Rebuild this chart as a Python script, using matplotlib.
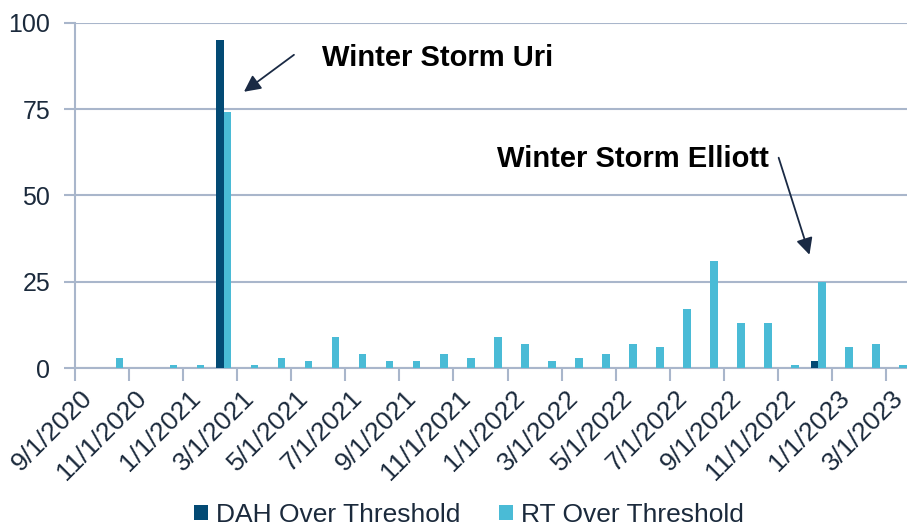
import matplotlib
matplotlib.use('Agg')
import matplotlib.pyplot as plt
import numpy as np
import pandas as pd

plt.rcParams['font.family'] = ['Liberation Sans', 'DejaVu Sans']

# monthly categories, Sep 2020 .. Mar 2023
months = pd.date_range('2020-09-01', '2023-03-01', freq='MS')
labels = [f'{d.month}/{d.day}/{d.year}' for d in months]

dah = [0, 0, 0, 0, 0, 95, 0, 0, 0, 0, 0, 0, 0, 0, 0, 0,
       0, 0, 0, 0, 0, 0, 0, 0, 0, 0, 0, 2, 0, 0, 0]
rt = [0, 3, 0, 1, 1, 74, 1, 3, 2, 9, 4, 2, 2, 4, 3, 9,
      7, 2, 3, 4, 7, 6, 17, 31, 13, 13, 1, 25, 6, 7, 1]

dah_color = '#034a74'
rt_color = '#4abbd6'
grid_color = '#a9b6cb'
text_color = '#1b2a3c'
arrow_color = '#1a2a44'

fig = plt.figure(figsize=(9.07, 5.27), dpi=100)
ax = fig.add_axes([75/907, 1 - 368/527, 838/907, 345.3/527])

x = np.arange(len(labels))
w = 0.28
ax.bar(x - w/2, dah, w, color=dah_color, label='DAH Over Threshold', zorder=3)
ax.bar(x + w/2, rt, w, color=rt_color, label='RT Over Threshold', zorder=3)

ax.set_xlim(-0.5, len(labels) - 0.5)
ax.set_ylim(0, 100)
ax.set_yticks([0, 25, 50, 75, 100])
ax.yaxis.grid(True, color=grid_color, linewidth=1.5)
ax.set_axisbelow(True)
for s in ['top', 'right']:
    ax.spines[s].set_visible(False)
for s in ['left', 'bottom']:
    ax.spines[s].set_color(grid_color)
    ax.spines[s].set_linewidth(1.5)

ax.tick_params(axis='y', length=8, width=1.5, color=grid_color,
               labelsize=18, labelcolor=text_color, pad=10)

# tick marks on month boundaries, labels on month centres
ax.set_xticks(np.arange(-0.5, len(labels), 2))
ax.set_xticklabels([])
ax.tick_params(axis='x', which='major', length=9, width=1.5, color=grid_color)
ax.set_xticks(x[::2], minor=True)
ax.set_xticklabels(labels[::2], minor=True, rotation=45, ha='right',
                   va='center', rotation_mode='anchor')
ax.tick_params(axis='x', which='minor', length=0, pad=19,
               labelsize=19, labelcolor=text_color)

ax.annotate('', xy=(5.75, 80), xytext=(7.6, 90.7),
            arrowprops=dict(arrowstyle='-|>', color=arrow_color, lw=1.3,
                            mutation_scale=25, shrinkA=0, shrinkB=0))
ax.text(8.64, 87.5, 'Winter Storm Uri', fontsize=21, fontweight='bold',
        va='baseline', ha='left', color='black')

ax.annotate('', xy=(26.67, 32.8), xytext=(25.53, 60.9),
            arrowprops=dict(arrowstyle='-|>', color=arrow_color, lw=1.3,
                            mutation_scale=25, shrinkA=0, shrinkB=0))
ax.text(15.11, 58.3, 'Winter Storm Elliott', fontsize=21, fontweight='bold',
        va='baseline', ha='left', color='black')

fig.legend(loc='center', bbox_to_anchor=(0.517, 0.023), ncol=2, frameon=False,
           fontsize=19, handlelength=0.5, handleheight=0.5, handletextpad=0.3,
           columnspacing=1.5, labelcolor=text_color)

fig.savefig('out.png', dpi=100)
